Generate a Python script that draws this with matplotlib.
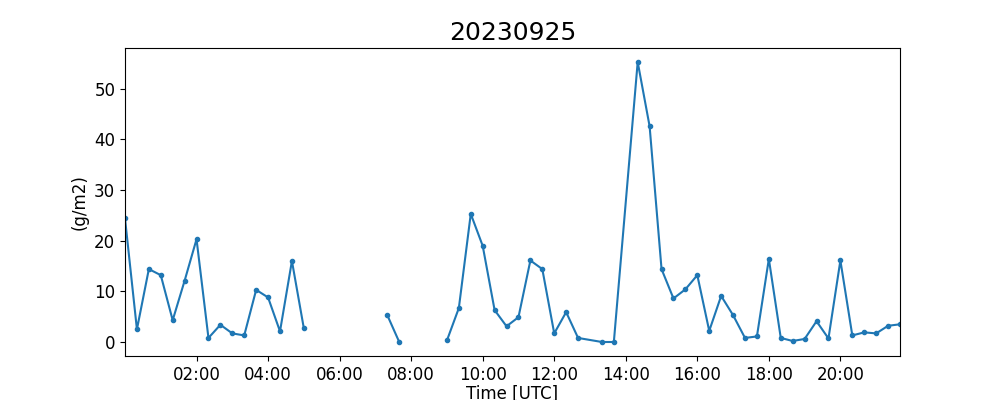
import matplotlib
matplotlib.use('Agg')
import matplotlib.pyplot as plt
import matplotlib.dates as mdates
import numpy as np
import pandas as pd

nan = np.nan

# 20-minute samples; NaN = missing (breaks the line), 13:00 and 14:00 absent
times = ['00:00', '00:20', '00:40', '01:00', '01:20', '01:40', '02:00', '02:20',
         '02:40', '03:00', '03:20', '03:40', '04:00', '04:20', '04:40', '05:00',
         '05:20', '05:40', '06:00', '06:20', '06:40', '07:00', '07:20', '07:40',
         '08:00', '08:20', '08:40', '09:00', '09:20', '09:40', '10:00', '10:20',
         '10:40', '11:00', '11:20', '11:40', '12:00', '12:20', '12:40', '13:20',
         '13:40', '14:20', '14:40', '15:00', '15:20', '15:40', '16:00', '16:20',
         '16:40', '17:00', '17:20', '17:40', '18:00', '18:20', '18:40', '19:00',
         '19:20', '19:40', '20:00', '20:20', '20:40', '21:00', '21:20', '21:40']
values = [24.4, 2.5, 14.4, 13.2, 4.3, 12.1, 20.3, 0.8,
          3.4, 1.7, 1.3, 10.3, 8.8, 2.1, 16.0, 2.7,
          nan, nan, nan, nan, nan, nan, 5.3, 0.0,
          nan, nan, nan, 0.3, 6.7, 25.3, 19.0, 6.3,
          3.1, 4.9, 16.1, 14.4, 1.7, 5.9, 0.8, 0.0,
          0.0, 55.3, 42.6, 14.4, 8.6, 10.4, 13.2, 2.2,
          9.1, 5.3, 0.8, 1.1, 16.4, 0.8, 0.2, 0.6,
          4.1, 0.7, 16.1, 1.3, 1.9, 1.7, 3.2, 3.5]

date = '2023-09-25'
t = pd.to_datetime([date + ' ' + s for s in times])

fig, ax = plt.subplots(figsize=(10, 4), dpi=100)
ax.plot(t, values, marker='.', color='tab:blue')
ax.set_xlim(t[0], t[-1])
ax.xaxis.set_major_locator(mdates.HourLocator(byhour=range(2, 24, 2)))
ax.xaxis.set_major_formatter(mdates.DateFormatter('%H:%M'))
ax.tick_params(labelsize=12)
ax.set_xlabel('Time [UTC]', fontsize=12, labelpad=1)
ax.set_ylabel('(g/m2)', fontsize=12)
ax.set_title('20230925', fontsize=18)

plt.savefig('out.png', dpi=100)
